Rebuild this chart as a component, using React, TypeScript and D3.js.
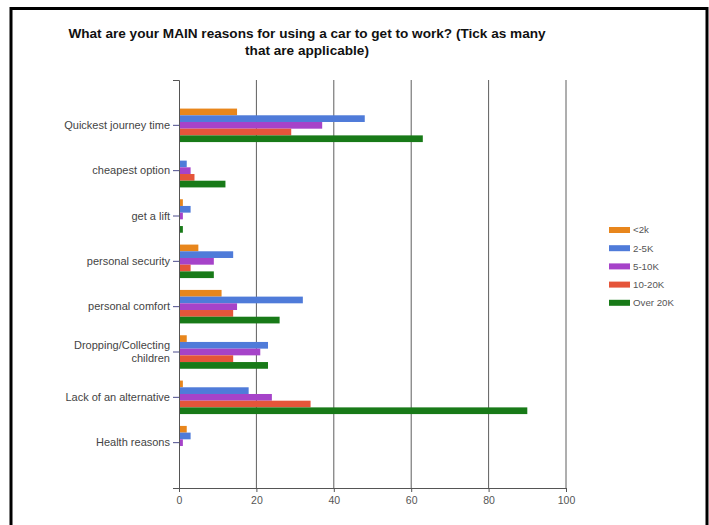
import React, {useEffect, useRef} from 'react';
import * as d3 from 'd3';

const categories = [
  'Quickest journey time',
  'cheapest option',
  'get a lift',
  'personal security',
  'personal comfort',
  'Dropping/Collecting children',
  'Lack of an alternative',
  'Health reasons',
];
const seriesNames = ['<2k', '2-5K', '5-10K', '10-20K', 'Over 20K'];
const under2k = [15, 0, 1, 5, 11, 2, 1, 2];
const k2to5 = [48, 2, 3, 14, 32, 23, 18, 3];
const k5to10 = [37, 3, 1, 9, 15, 21, 24, 1];
const k10to20 = [29, 4, 0, 3, 14, 14, 34, 0];
const over20k = [63, 12, 1, 9, 26, 23, 90, 0];
const xTicks = [0, 20, 40, 60, 80, 100];
const colors = ['#e8861c', '#4f7bd9', '#a643c9', '#e5553a', '#187a18'];

const App = () => {
  const svgRef = useRef<SVGSVGElement>(null);

  useEffect(() => {
    const w = 709, h = 525;
    const svg = d3.select(svgRef.current);
    svg.selectAll('*').remove();

    // frame
    svg.append('rect')
      .attr('x', 11).attr('y', 8.5)
      .attr('width', 696).attr('height', 530)
      .attr('fill', 'white')
      .attr('stroke', 'black')
      .attr('stroke-width', 3);

    // title
    const title = svg.append('text')
      .attr('text-anchor', 'middle')
      .attr('font-family', 'Liberation Sans, Arial, sans-serif')
      .attr('font-weight', 'bold')
      .attr('font-size', 13.6)
      .attr('fill', '#111');
    title.append('tspan').attr('x', 307).attr('y', 38)
      .text('What are your MAIN reasons for using a car to get to work? (Tick as many');
    title.append('tspan').attr('x', 307).attr('y', 55)
      .text('that are applicable)');

    const x = d3.scaleLinear().domain([0, 100]).range([179, 566]);
    const y = d3.scaleBand<string>()
      .domain(categories)
      .range([80, 488])
      .paddingInner(0)
      .paddingOuter(0.5);
    const groupH = 33.5;
    const ySub = d3.scaleBand<number>()
      .domain(d3.range(seriesNames.length))
      .range([0, groupH]);

    // gridlines
    svg.append('g')
      .selectAll('line')
      .data(xTicks.slice(1))
      .join('line')
      .attr('x1', d => x(d)).attr('x2', d => x(d))
      .attr('y1', 80).attr('y2', 488)
      .attr('stroke', '#5e5e5e')
      .attr('stroke-width', 1);

    // bars
    const series = [under2k, k2to5, k5to10, k10to20, over20k];
    const rows = series.flatMap((vals, si) =>
      vals.map((v, ci) => ({si, cat: categories[ci], v})));
    svg.append('g')
      .selectAll('rect')
      .data(rows)
      .join('rect')
      .attr('x', x(0))
      .attr('y', d => (y(d.cat) as number) + y.bandwidth() / 2 - groupH / 2 + (ySub(d.si) as number))
      .attr('width', d => x(d.v) - x(0))
      .attr('height', ySub.bandwidth())
      .attr('fill', d => colors[d.si]);

    // bottom axis
    const xAxis = svg.append('g')
      .attr('transform', 'translate(0,488)')
      .call(d3.axisBottom(x).tickValues(xTicks).tickSize(4).tickSizeOuter(0));
    xAxis.select('.domain').attr('stroke', '#555');
    xAxis.selectAll('.tick line').attr('stroke', '#555');
    xAxis.selectAll('.tick text')
      .attr('fill', '#555')
      .attr('font-family', 'Liberation Sans, Arial, sans-serif')
      .attr('font-size', 10.5)
      .attr('dy', '0.9em');

    // left axis
    const yAxis = svg.append('g')
      .attr('transform', `translate(${x(0)},0)`)
      .call(d3.axisLeft(y).tickSize(6).tickSizeOuter(6).tickPadding(3));
    yAxis.select('.domain').attr('stroke', '#555');
    yAxis.selectAll('.tick line').attr('stroke', '#4b4b8c');
    yAxis.selectAll<SVGTextElement, string>('.tick text')
      .attr('fill', '#444')
      .attr('font-family', 'Liberation Sans, Arial, sans-serif')
      .attr('font-size', 11)
      .each(function (d) {
        if (d.startsWith('Dropping')) {
          const t = d3.select(this);
          t.text(null);
          t.append('tspan').attr('x', -9).attr('dy', '-0.25em').text('Dropping/Collecting');
          t.append('tspan').attr('x', -9).attr('dy', '1.2em').text('children');
        }
      });

    // legend
    const legend = svg.append('g');
    seriesNames.forEach((name, i) => {
      const ly = 230 + i * 18.2;
      legend.append('rect')
        .attr('x', 609).attr('y', ly - 3)
        .attr('width', 21).attr('height', 6)
        .attr('fill', colors[i]);
      legend.append('text')
        .attr('x', 633).attr('y', ly)
        .attr('dy', '0.35em')
        .attr('fill', '#555')
        .attr('font-family', 'Liberation Sans, Arial, sans-serif')
        .attr('font-size', 9.7)
        .text(name);
    });

    svg.attr('width', w).attr('height', h);
  }, []);

  return (
    <div style={{position: 'absolute', left: 0, top: 0}}>
      <svg ref={svgRef} width={709} height={525} style={{display: 'block', background: 'white'}}></svg>
    </div>
  );
};

export default App;
